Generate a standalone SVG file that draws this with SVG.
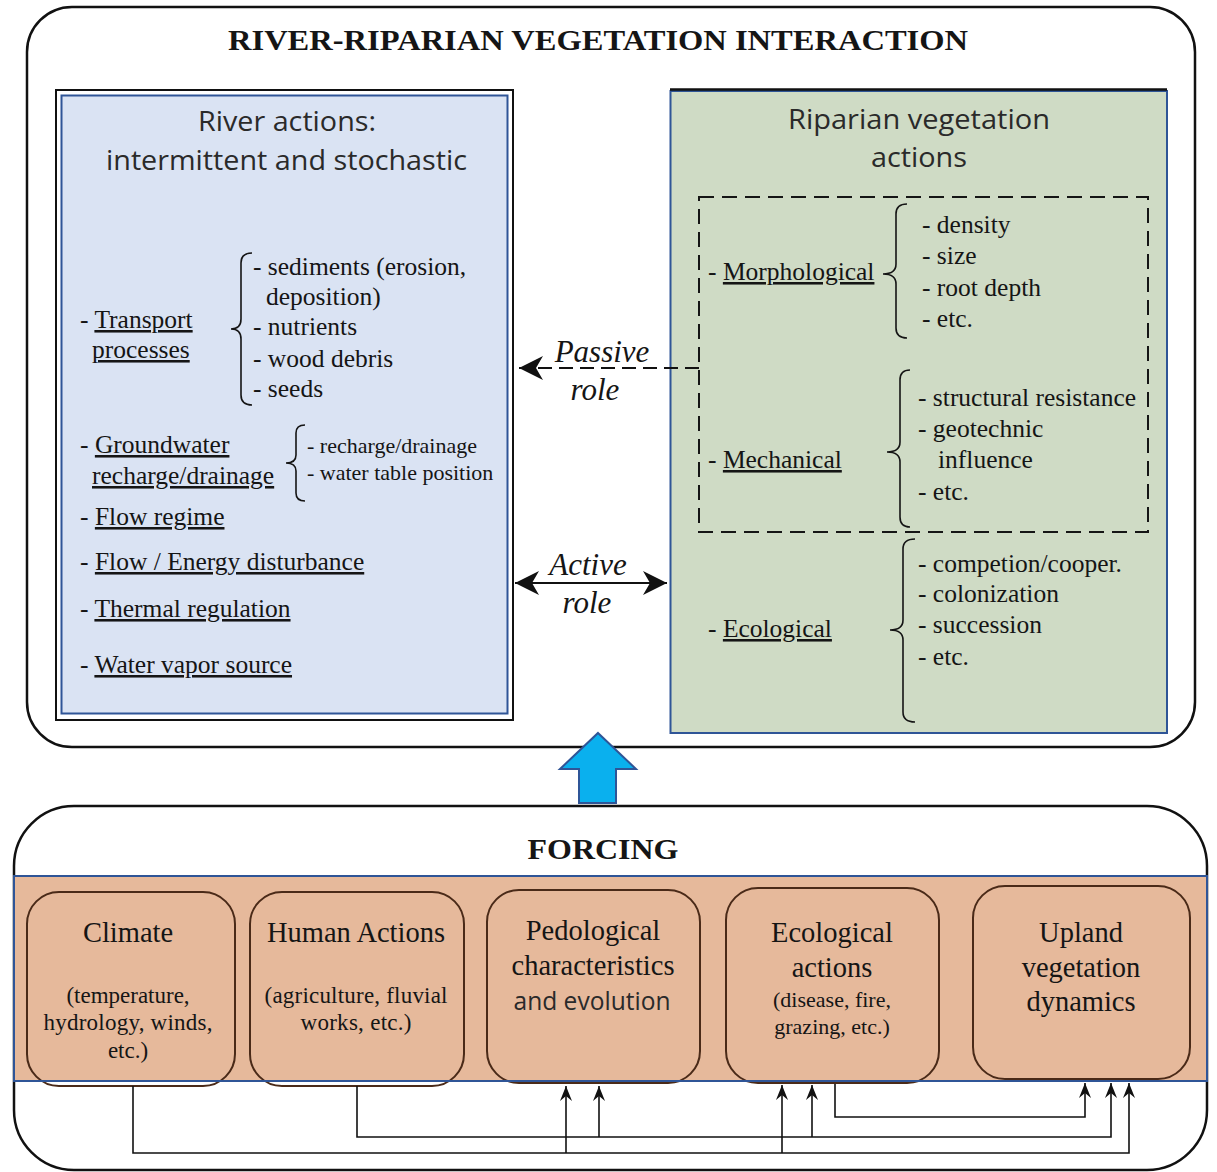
<svg xmlns="http://www.w3.org/2000/svg" width="1217" height="1172" viewBox="0 0 1217 1172">
<style>
.serif{font-family:"Liberation Serif","Times New Roman",serif;fill:#151515}
.sans{font-family:"Open Sans","Noto Sans",sans-serif;fill:#2a2a2a}
.bold{font-weight:bold}
.title{font-size:30px}
.head{font-size:28.5px}
.sh{font-size:28px}
.item{font-size:25.5px}
.small{font-size:22px}
.sm2{font-size:23px}
.it{font-style:italic;font-size:31px}
.u{text-decoration:underline}
.frame{fill:none;stroke:#111;stroke-width:2.5}
.brace{fill:none;stroke:#151515;stroke-width:1.6}
.box{fill:none;stroke:#4a2a18;stroke-width:2}
.wire{fill:none;stroke:#111;stroke-width:1.6}
</style>
<defs>
<marker id="big" viewBox="0 0 24 24" refX="24" refY="12" markerWidth="24" markerHeight="24" markerUnits="userSpaceOnUse" orient="auto-start-reverse">
<path d="M0,0 L24,12 L0,24 L7,12 Z" fill="#111"/>
</marker>
<marker id="sm" viewBox="0 0 15 12" refX="15" refY="6" markerWidth="15" markerHeight="12" markerUnits="userSpaceOnUse" orient="auto">
<path d="M0,0 L15,6 L0,12 L5,6 Z" fill="#111"/>
</marker>
</defs>
<rect width="1217" height="1172" fill="#ffffff"/>

<g id="interaction">
<rect class="frame" x="27" y="7" width="1168" height="740" rx="45"/>
<text class="serif bold title" x="598" y="50" text-anchor="middle" textLength="740" lengthAdjust="spacingAndGlyphs">RIVER-RIPARIAN VEGETATION INTERACTION</text>
</g>

<g id="river-actions">
<rect x="56" y="90" width="457" height="630" fill="none" stroke="#111" stroke-width="2"/>
<rect x="61.5" y="95.5" width="446" height="618" fill="#dae3f3" stroke="#2f5597" stroke-width="2"/>
<text class="sans sh" x="287" y="131" text-anchor="middle" textLength="178" lengthAdjust="spacingAndGlyphs">River actions:</text>
<text class="sans sh" x="286.5" y="170" text-anchor="middle" textLength="361" lengthAdjust="spacingAndGlyphs">intermittent and stochastic</text>
<text class="serif item" x="80" y="328">- <tspan class="u">Transport</tspan></text>
<text class="serif item" x="92" y="358"><tspan class="u">processes</tspan></text>
<path class="brace" d="M252,253 Q241,253 241,263 L241,319 Q241,329 231,329 Q241,329 241,339 L241,395 Q241,405 252,405"/>
<text class="serif item" x="253" y="275">- sediments (erosion,</text>
<text class="serif item" x="266" y="305">deposition)</text>
<text class="serif item" x="253" y="335">- nutrients</text>
<text class="serif item" x="253" y="367">- wood debris</text>
<text class="serif item" x="253" y="397">- seeds</text>
<text class="serif item" x="80" y="453">- <tspan class="u">Groundwater</tspan></text>
<text class="serif item" x="92" y="484"><tspan class="u">recharge/drainage</tspan></text>
<path class="brace" d="M305,425 Q296,425 296,433 L296,455 Q296,463 286,463 Q296,463 296,471 L296,493 Q296,501 305,501"/>
<text class="serif small" x="307" y="453">- recharge/drainage</text>
<text class="serif small" x="307" y="480">- water table position</text>
<text class="serif item" x="80" y="525">- <tspan class="u">Flow regime</tspan></text>
<text class="serif item" x="80" y="570">- <tspan class="u">Flow / Energy disturbance</tspan></text>
<text class="serif item" x="80" y="617">- <tspan class="u">Thermal regulation</tspan></text>
<text class="serif item" x="80" y="673">- <tspan class="u">Water vapor source</tspan></text>
</g>

<g id="vegetation-actions">
<rect x="670.5" y="91" width="496.5" height="642" fill="#cfdbc5" stroke="#2f5597" stroke-width="2"/>
<line x1="670" y1="89.5" x2="1167" y2="89.5" stroke="#111" stroke-width="2.5"/>
<text class="sans sh" x="919" y="129" text-anchor="middle" textLength="262" lengthAdjust="spacingAndGlyphs">Riparian vegetation</text>
<text class="sans sh" x="919" y="167" text-anchor="middle" textLength="96" lengthAdjust="spacingAndGlyphs">actions</text>
<rect x="699" y="197" width="449" height="335" fill="none" stroke="#151515" stroke-width="2" stroke-dasharray="15 8"/>
<text class="serif item" x="708" y="280">- <tspan class="u">Morphological</tspan></text>
<path class="brace" d="M907,204 Q896,204 896,214 L896,264 Q896,274 883,274 Q896,274 896,284 L896,328 Q896,338 907,338"/>
<text class="serif item" x="922" y="233">- density</text>
<text class="serif item" x="922" y="264">- size</text>
<text class="serif item" x="922" y="296">- root depth</text>
<text class="serif item" x="922" y="327">- etc.</text>
<text class="serif item" x="708" y="468">- <tspan class="u">Mechanical</tspan></text>
<path class="brace" d="M910,370 Q900,370 900,380 L900,442 Q900,452 887,452 Q900,452 900,462 L900,517 Q900,527 910,527"/>
<text class="serif item" x="918" y="406">- structural resistance</text>
<text class="serif item" x="918" y="437">- geotechnic</text>
<text class="serif item" x="938" y="468">influence</text>
<text class="serif item" x="918" y="500">- etc.</text>
<text class="serif item" x="708" y="637">- <tspan class="u">Ecological</tspan></text>
<path class="brace" d="M915,539 Q903,539 903,549 L903,620 Q903,630 890,630 Q903,630 903,640 L903,712 Q903,722 915,722"/>
<text class="serif item" x="918" y="572">- competion/cooper.</text>
<text class="serif item" x="918" y="602">- colonization</text>
<text class="serif item" x="918" y="633">- succession</text>
<text class="serif item" x="918" y="665">- etc.</text>
</g>

<g id="forcing">
<rect class="frame" x="14" y="806" width="1193" height="364" rx="60"/>
<text class="serif bold title" x="603" y="859" text-anchor="middle" textLength="151" lengthAdjust="spacingAndGlyphs">FORCING</text>
<rect x="14" y="876" width="1193" height="205" fill="#e6b99b"/>
</g>

<g id="climate">
<rect class="box" x="27" y="892" width="208" height="194" rx="32"/>
<text class="serif head" x="128" y="942" text-anchor="middle">Climate</text>
<text class="serif sm2" x="128" y="1003" text-anchor="middle">(temperature,</text>
<text class="serif sm2" x="128" y="1030" text-anchor="middle" textLength="169" lengthAdjust="spacing">hydrology, winds,</text>
<text class="serif sm2" x="128" y="1058" text-anchor="middle">etc.)</text>
</g>

<g id="human-actions">
<rect class="box" x="250" y="892" width="214" height="194" rx="32"/>
<text class="serif head" x="356" y="942" text-anchor="middle">Human Actions</text>
<text class="serif sm2" x="356" y="1003" text-anchor="middle" textLength="183" lengthAdjust="spacing">(agriculture, fluvial</text>
<text class="serif sm2" x="356" y="1030" text-anchor="middle" textLength="111" lengthAdjust="spacing">works, etc.)</text>
</g>

<g id="pedological">
<rect class="box" x="487" y="890" width="213" height="193" rx="32"/>
<text class="serif head" x="593" y="940" text-anchor="middle">Pedological</text>
<text class="serif head" x="593" y="975" text-anchor="middle">characteristics</text>
<text class="sans" style="font-size:26px" x="592" y="1010" text-anchor="middle" textLength="157" lengthAdjust="spacingAndGlyphs">and evolution</text>
</g>

<g id="ecological-actions">
<rect class="box" x="726" y="888" width="213" height="195" rx="32"/>
<text class="serif head" x="832" y="942" text-anchor="middle">Ecological</text>
<text class="serif head" x="832" y="977" text-anchor="middle">actions</text>
<text class="serif small" x="832" y="1007" text-anchor="middle">(disease, fire,</text>
<text class="serif small" x="832" y="1034" text-anchor="middle">grazing, etc.)</text>
</g>

<g id="upland-vegetation">
<rect class="box" x="973" y="886" width="217" height="193" rx="32"/>
<text class="serif head" x="1081" y="942" text-anchor="middle">Upland</text>
<text class="serif head" x="1081" y="977" text-anchor="middle">vegetation</text>
<text class="serif head" x="1081" y="1011" text-anchor="middle">dynamics</text>
</g>

<g id="forcing-band-border">
<rect x="14" y="876" width="1193" height="205" fill="none" stroke="#2f5597" stroke-width="2"/>
</g>

<g id="connectors">
<path d="M699,368 L519,368" fill="none" stroke="#111" stroke-width="2" stroke-dasharray="14 7" marker-end="url(#big)"/>
<text class="serif it" x="602" y="362" text-anchor="middle">Passive</text>
<text class="serif it" x="595" y="400" text-anchor="middle">role</text>
<path d="M515,583 L667,583" fill="none" stroke="#111" stroke-width="2" marker-start="url(#big)" marker-end="url(#big)"/>
<text class="serif it" x="588" y="575" text-anchor="middle">Active</text>
<text class="serif it" x="587" y="613" text-anchor="middle">role</text>
<polygon points="598,733 636,769 616,769 616,803 579,803 579,769 560,769" fill="#0ab0ee" stroke="#2f5597" stroke-width="2"/>
<path class="wire" d="M133,1086 V1153 H1129 V1083" marker-end="url(#sm)"/>
<path class="wire" d="M566,1153 V1086" marker-end="url(#sm)"/>
<path class="wire" d="M782,1153 V1085" marker-end="url(#sm)"/>
<path class="wire" d="M357,1086 V1137 H1111 V1083" marker-end="url(#sm)"/>
<path class="wire" d="M599,1137 V1086" marker-end="url(#sm)"/>
<path class="wire" d="M812,1137 V1085" marker-end="url(#sm)"/>
<path class="wire" d="M835,1084 V1117 H1085 V1083" marker-end="url(#sm)"/>
</g>
</svg>
